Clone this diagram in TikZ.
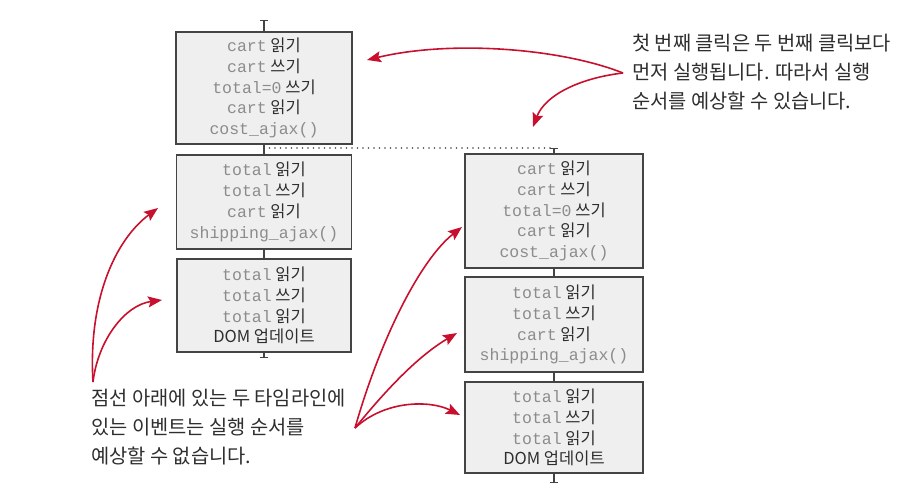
\documentclass[tikz,border=0pt]{standalone}
\usepackage{fontspec}
\setmainfont{Noto Sans CJK KR}
\setmonofont{Liberation Mono}
\usetikzlibrary{arrows.meta}
\definecolor{boxfill}{HTML}{EFEFEF}
\definecolor{boxline}{HTML}{444444}
\definecolor{codegray}{HTML}{8C8C8C}
\definecolor{krdark}{HTML}{2E2E2E}
\definecolor{arrred}{HTML}{C8102E}
\newcommand{\cd}[1]{{\ttfamily\fontsize{16.5}{20.8}\selectfont\color{codegray}#1}}
\tikzset{
  evbox/.style={draw=boxline, fill=boxfill, line width=1.4pt, align=center, inner sep=0pt,
    text=krdark, font=\fontsize{16.5}{20.8}\selectfont},
  tl/.style={draw=boxline, line width=1.4pt},
  note/.style={align=left, inner sep=0pt, text=krdark, anchor=north west,
    font=\fontsize{19.8}{29}\selectfont},
  redarrow/.style={draw=arrred, line width=1.6pt, -{Stealth[length=14pt,width=11pt,inset=2.5pt]}}
}
\begin{document}
\begin{tikzpicture}[x=1pt,y=-1pt]
\useasboundingbox (0,0) rectangle (903,501);

% left timeline
\node[evbox, minimum width=176pt, minimum height=112pt] (L1) at (264,88)
  {\cd{cart} 읽기\\ \cd{cart} 쓰기\\ \cd{total=0} 쓰기\\ \cd{cart} 읽기\\ \cd{cost\_ajax()}};
\node[evbox, minimum width=175pt, minimum height=94pt] (L2) at (264,202)
  {\cd{total} 읽기\\ \cd{total} 쓰기\\ \cd{cart} 읽기\\ \cd{shipping\_ajax()}};
\node[evbox, minimum width=174pt, minimum height=93pt] (L3) at (264,305.5)
  {\cd{total} 읽기\\ \cd{total} 쓰기\\ \cd{total} 읽기\\ DOM 업데이트};

% right timeline
\node[evbox, minimum width=178pt, minimum height=114pt] (R1) at (554,211)
  {\cd{cart} 읽기\\ \cd{cart} 쓰기\\ \cd{total=0} 쓰기\\ \cd{cart} 읽기\\ \cd{cost\_ajax()}};
\node[evbox, minimum width=178pt, minimum height=95pt] (R2) at (554,324.5)
  {\cd{total} 읽기\\ \cd{total} 쓰기\\ \cd{cart} 읽기\\ \cd{shipping\_ajax()}};
\node[evbox, minimum width=178pt, minimum height=91pt] (R3) at (554,427.5)
  {\cd{total} 읽기\\ \cd{total} 쓰기\\ \cd{total} 읽기\\ DOM 업데이트};

\coordinate (Ltop) at (264,20);
\coordinate (Lbot) at (264,358);
\coordinate (Rtop) at (554,148);
\coordinate (Rbot) at (554,483);

\draw[tl, {Bar[width=8pt]}-] (Ltop) -- (L1.north);
\draw[tl] (L1.south) -- (L2.north);
\draw[tl] (L2.south) -- (L3.north);
\draw[tl, -{Bar[width=8pt]}] (L3.south) -- (Lbot);
\draw[tl, {Bar[width=8pt]}-] (Rtop) -- (R1.north);
\draw[tl] (R1.south) -- (R2.north);
\draw[tl] (R2.south) -- (R3.north);
\draw[tl, -{Bar[width=8pt]}] (R3.south) -- (Rbot);
\draw[draw=boxline, line width=1.8pt, line cap=round, dash pattern=on 0pt off 5.5pt] (Rtop -| L1.south) -- (Rtop);

% notes
\node[note] (TR) at (632,34) {첫 번째 클릭은 두 번째 클릭보다\\먼저 실행됩니다. 따라서 실행\\순서를 예상할 수 있습니다.};
\node[note] (BL) at (91,389) {점선 아래에 있는 두 타임라인에\\있는 이벤트는 실행 순서를\\예상할 수 없습니다.};

% arrows
\coordinate (TRs) at (623,73);
\coordinate (TRa) at (367,60);
\coordinate (TRb) at (533,127);
\draw[redarrow] (TRs) .. controls (560,48) and (450,40) .. (TRa);
\draw[redarrow] (TRs) .. controls (580,78) and (545,95) .. (TRb);

\coordinate (BLs) at (93,382);
\coordinate (BLa) at (158,208);
\coordinate (BLb) at (162,300);
\draw[redarrow] (BLs) .. controls (88,300) and (115,240) .. (BLa);
\draw[redarrow] (BLs) .. controls (98,340) and (125,305) .. (BLb);

\coordinate (BRs) at (355,428);
\coordinate (BRa) at (462,227);
\coordinate (BRb) at (457,333);
\coordinate (BRc) at (460,415);
\draw[redarrow] (BRs) .. controls (380,340) and (420,260) .. (BRa);
\draw[redarrow] (BRs) .. controls (390,385) and (420,355) .. (BRb);
\draw[redarrow] (BRs) .. controls (385,400) and (430,400) .. (BRc);
\end{tikzpicture}
\end{document}
